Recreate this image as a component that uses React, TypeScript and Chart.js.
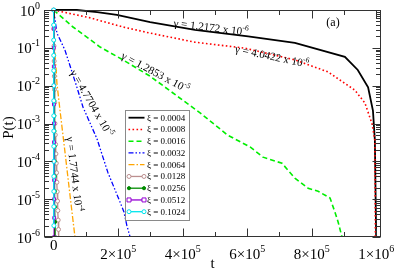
import React, { useEffect, useRef } from "react";
import { Chart, registerables } from "chart.js";

Chart.register(...registerables);

// ---------- data ----------
const seriesLabels = [
  "ξ = 0.0004", "ξ = 0.0008", "ξ = 0.0016", "ξ = 0.0032", "ξ = 0.0064",
  "ξ = 0.0128", "ξ = 0.0256", "ξ = 0.0512", "ξ = 0.1024",
];

const t0004 = [0, 7.2e4, 1.35e5, 1.96e5, 2.99e5, 4.38e5, 6.03e5, 7.48e5, 9.03e5, 9.43e5, 9.75e5, 9.9e5, 9.96e5, 1.0e6, 1.001e6];
const p0004 = [1, 1, 0.88, 0.74, 0.48, 0.30, 0.20, 0.135, 0.058, 0.026, 0.0091, 0.0022, 0.00036, 1e-6, 1e-8];

const t0008 = [0, 1.13e5, 2.15e5, 2.99e5, 4.38e5, 5.93e5, 7.48e5, 8.51e5, 9.34e5, 9.65e5, 9.87e5, 9.96e5, 9.99e5];
const p0008 = [1, 0.62, 0.355, 0.245, 0.141, 0.098, 0.048, 0.023, 0.0076, 0.0035, 0.001, 0.00036, 1e-8];

const t0016 = [0, 6.0e4, 1.44e5, 2.15e5, 2.99e5, 4.54e5, 5.40e5, 6.09e5, 6.49e5, 7.08e5, 7.48e5, 7.89e5, 8.2e5, 8.57e5, 8.72e5, 8.82e5, 8.94e5, 9.0e5];
const p0016 = [1, 0.355, 0.105, 0.048, 0.0178, 0.0019, 0.00049, 0.00024, 0.000129, 0.000089, 0.000036, 0.0000195, 0.0000162, 0.0000107, 0.0000046, 0.0000025, 1.0e-6, 5e-7];

const t0032 = [0, 1.0e4, 3.5e4, 6.0e4, 7.2e4, 9.1e4, 1.34e5, 1.68e5, 2.06e5, 2.18e5, 2.27e5, 2.37e5, 2.4e5];
const p0032 = [1, 0.245, 0.087, 0.019, 0.0091, 0.0027, 0.0004, 0.000051, 0.0000083, 0.0000046, 0.000002, 1e-6, 3.2e-7];

const t0064 = [0, 2e3, 5e3, 8e3, 1.0e4, 2.0e4, 3.5e4, 5.0e4, 6.6e4, 7.0e4];
const p0064 = [1, 0.16, 0.05, 0.025, 0.0117, 0.0021, 0.000178, 0.0000141, 1e-6, 5e-7];

const t0128 = [0, 500, 1000, 1500, 2000, 2500, 3000, 4000, 5000, 6000, 7000, 8000, 9000, 10000, 11000, 12000, 13000, 14000, 15000, 16000, 17000];
const p0128 = [1, 0.316, 0.112, 0.0447, 0.0178, 0.00794, 0.00355, 0.001, 5.0e-4, 2.8e-4, 1.58e-4, 8.9e-5, 5.0e-5, 2.8e-5, 1.58e-5, 8.9e-6, 5.0e-6, 2.8e-6, 1.58e-6, 8.9e-7, 5e-7];

const t0256 = [0, 300, 600, 900, 1200, 1500, 1800, 2100, 2400, 2700, 3000, 3300, 3600, 3900, 4200, 4500];
const p0256 = [1, 0.4, 0.16, 0.063, 0.025, 0.01, 0.004, 0.0016, 6.3e-4, 2.5e-4, 1e-4, 4e-5, 1.6e-5, 6.3e-6, 2.5e-6, 1e-6];

const t0512 = [0, 150, 300, 450, 600, 750, 900, 1050, 1200, 1350, 1500, 1650, 1800];
const p0512 = [1, 0.32, 0.1, 0.032, 0.01, 0.0032, 0.001, 3.2e-4, 1e-4, 3.2e-5, 1e-5, 3.2e-6, 1e-6];

const t1024 = [0, 40, 80, 120, 160, 200, 240, 280, 320, 360, 400, 440, 480, 520, 570];
const p1024 = [1, 0.4, 0.16, 0.063, 0.025, 0.01, 0.004, 0.0016, 6.3e-4, 2.5e-4, 1e-4, 4e-5, 1.6e-5, 6.3e-6, 2e-6];

const seriesT = [t0004, t0008, t0016, t0032, t0064, t0128, t0256, t0512, t1024];
const seriesP = [p0004, p0008, p0016, p0032, p0064, p0128, p0256, p0512, p1024];

const xMajorTicks = [0, 2e5, 4e5, 6e5, 8e5, 1e6];
const xMinorTicks = [1e5, 3e5, 5e5, 7e5, 9e5];
const xTickBase = ["0", "2×10", "4×10", "6×10", "8×10", "1×10"];
const xTickExp = ["", "5", "5", "5", "5", "6"];
const yMajorTicks = [1, 1e-1, 1e-2, 1e-3, 1e-4, 1e-5, 1e-6];
const yTickExp = ["0", "-1", "-2", "-3", "-4", "-5", "-6"];

const gammaBase = ["γ = 1.2172 x 10", "γ = 4.0422 x 10", "γ = 1.2853 x 10", "γ = 4.7704 x 10", "γ = 1.7744 x 10"];
const gammaExp = ["-6", "-6", "-5", "-5", "-4"];

// ---------- styles ----------
const X_MIN = -3e4, X_MAX = 1.015e6, Y_MIN = 1e-6, Y_MAX = 1;
const FONT = "'Liberation Serif', 'Times New Roman', Times, serif";

const styles = [
  { color: "#000000", width: 1.8, dash: [] as number[], marker: null as any },
  { color: "#ff0000", width: 1.6, dash: [1.6, 2.4], marker: null },
  { color: "#00ee00", width: 1.6, dash: [5, 3], marker: null },
  { color: "#0000ff", width: 1.3, dash: [5, 2, 1.5, 2, 1.5, 2], marker: null },
  { color: "#ffa500", width: 1.3, dash: [6, 2, 1.5, 2], marker: null },
  { color: "#bc8f8f", width: 1.3, dash: [], marker: { style: "circle", fill: "#ffffff", r: 2 } },
  { color: "#008b00", width: 1.3, dash: [], marker: { style: "circle", fill: "#008b00", r: 1.6 } },
  { color: "#9400d3", width: 1.3, dash: [], marker: { style: "rect", fill: "#ffffff", r: 2 } },
  { color: "#00e5ee", width: 1.3, dash: [], marker: { style: "circle", fill: "#ffffff", r: 2 } },
];

// annotation anchors (data coords) and rotation in degrees
const gammaAnchors = [
  { t: 4.88e5, p: 0.355, angle: 7 },
  { t: 6.77e5, p: 0.061, angle: 12 },
  { t: 3.16e5, p: 0.0229, angle: 28 },
  { t: 1.19e5, p: 0.0035, angle: 60 },
  { t: 6.6e4, p: 4.6e-5, angle: 83 },
];

function drawSup(ctx: CanvasRenderingContext2D, base: string, sup: string, x: number, y: number,
  bs: number, ss: number, rise: number, align: "left" | "right" | "center") {
  ctx.font = `${bs}px ${FONT}`;
  const wb = ctx.measureText(base).width;
  ctx.font = `${ss}px ${FONT}`;
  const ws = sup ? ctx.measureText(sup).width : 0;
  const total = wb + ws;
  const x0 = align === "right" ? x - total : align === "center" ? x - total / 2 : x;
  ctx.textAlign = "left";
  ctx.textBaseline = "alphabetic";
  ctx.font = `${bs}px ${FONT}`;
  ctx.fillText(base, x0, y);
  if (sup) {
    ctx.font = `${ss}px ${FONT}`;
    ctx.fillText(sup, x0 + wb, y - rise);
  }
}

function drawMarker(ctx: CanvasRenderingContext2D, m: any, color: string, x: number, y: number) {
  ctx.save();
  ctx.setLineDash([]);
  ctx.lineWidth = 1;
  ctx.strokeStyle = color;
  ctx.fillStyle = m.fill;
  ctx.beginPath();
  if (m.style === "rect") ctx.rect(x - m.r, y - m.r, 2 * m.r, 2 * m.r);
  else ctx.arc(x, y, m.r, 0, Math.PI * 2);
  ctx.fill();
  ctx.stroke();
  ctx.restore();
}

const decorPlugin = {
  id: "decor",
  afterDraw(chart: any) {
    const ctx: CanvasRenderingContext2D = chart.ctx;
    const { left, right, top, bottom } = chart.chartArea;
    const xs = chart.scales.x, ys = chart.scales.y;
    ctx.save();
    // frame
    ctx.strokeStyle = "#333";
    ctx.lineWidth = 1;
    ctx.setLineDash([]);
    const L = Math.round(left) + 0.5, R = Math.round(right) - 0.5, T = Math.round(top) + 0.5, B = Math.round(bottom) - 0.5;
    ctx.strokeRect(L, T, R - L, B - T);
    const MAJ = 8, MIN = 4.5;
    ctx.beginPath();
    const xt = (v: number, len: number) => {
      const px = Math.round(xs.getPixelForValue(v)) + 0.5;
      ctx.moveTo(px, B); ctx.lineTo(px, B - len);
      ctx.moveTo(px, T); ctx.lineTo(px, T + len);
    };
    xMajorTicks.forEach((v) => xt(v, MAJ));
    xMinorTicks.forEach((v) => xt(v, MIN));
    const yt = (v: number, len: number) => {
      const py = Math.round(ys.getPixelForValue(v)) + 0.5;
      ctx.moveTo(L, py); ctx.lineTo(L + len, py);
      ctx.moveTo(R, py); ctx.lineTo(R - len, py);
    };
    yMajorTicks.forEach((v) => yt(v, MAJ));
    for (let k = -6; k < 0; k++) for (let m = 2; m <= 9; m++) yt(m * Math.pow(10, k), MIN);
    ctx.stroke();

    // tick labels
    ctx.fillStyle = "#000";
    yMajorTicks.forEach((v, i) => {
      const py = ys.getPixelForValue(v);
      drawSup(ctx, "10", yTickExp[i], left - 4, py + 5.5, 15, 10, 7, "right");
    });
    xMajorTicks.forEach((v, i) => {
      const px = xs.getPixelForValue(v);
      if (xTickExp[i]) drawSup(ctx, xTickBase[i], xTickExp[i], px, bottom + 22, 15, 10, 7, "center");
      else drawSup(ctx, xTickBase[i], "", px, bottom + 13, 15, 10, 7, "center");
    });

    // axis titles
    ctx.font = `15px ${FONT}`;
    ctx.textAlign = "center";
    ctx.textBaseline = "middle";
    ctx.fillText("t", (left + right) / 2, 264);
    ctx.save();
    ctx.translate(9, (top + bottom) / 2 + 4);
    ctx.rotate(-Math.PI / 2);
    ctx.fillText("P(t)", 0, 0);
    ctx.restore();

    // (a)
    ctx.font = `12px ${FONT}`;
    ctx.fillText("(a)", 333, 23);

    // gamma annotations
    gammaAnchors.forEach((a, i) => {
      const px = xs.getPixelForValue(a.t), py = ys.getPixelForValue(a.p);
      ctx.save();
      ctx.translate(px, py);
      ctx.rotate((a.angle * Math.PI) / 180);
      drawSup(ctx, gammaBase[i], gammaExp[i], 0, 4, 11, 7.5, 5, "center");
      ctx.restore();
    });

    // legend
    const bx = 125.5, by = 110.5, bw = 64, bh = 110;
    ctx.fillStyle = "#fff";
    ctx.fillRect(bx, by, bw, bh);
    ctx.strokeStyle = "#8a8a8a";
    ctx.lineWidth = 1;
    ctx.strokeRect(bx, by, bw, bh);
    seriesLabels.forEach((lab, i) => {
      const s = styles[i];
      const ry = 117.7 + i * 11.75;
      ctx.save();
      ctx.strokeStyle = s.color;
      ctx.lineWidth = s.width;
      ctx.setLineDash(s.dash);
      ctx.beginPath();
      ctx.moveTo(128.5, ry);
      ctx.lineTo(144.5, ry);
      ctx.stroke();
      ctx.restore();
      if (s.marker) {
        drawMarker(ctx, s.marker, s.color, 129, ry);
        drawMarker(ctx, s.marker, s.color, 144, ry);
      }
      ctx.fillStyle = "#000";
      ctx.font = `9px ${FONT}`;
      ctx.textAlign = "left";
      ctx.textBaseline = "middle";
      ctx.fillText(lab, 147, ry + 0.5);
    });
    ctx.restore();
  },
};

export default function App() {
  const ref = useRef<HTMLCanvasElement>(null);
  useEffect(() => {
    const datasets = seriesLabels.map((lab, i) => {
      const s = styles[i];
      return {
        label: lab,
        data: seriesT[i].map((t, j) => ({ x: t, y: seriesP[i][j] })),
        borderColor: s.color,
        backgroundColor: s.color,
        borderWidth: s.width,
        borderDash: s.dash,
        fill: false,
        tension: 0,
        pointRadius: s.marker ? s.marker.r : 0,
        pointStyle: s.marker ? s.marker.style : "circle",
        pointBackgroundColor: s.marker ? s.marker.fill : s.color,
        pointBorderColor: s.color,
        pointBorderWidth: 1,
        order: 10 - i,
        clip: { left: 2, top: 3, right: 2, bottom: 0 },
      };
    });
    const chart = new Chart(ref.current as HTMLCanvasElement, {
      type: "line",
      data: { datasets },
      options: {
        animation: false,
        responsive: false,
        devicePixelRatio: 1,
        layout: { padding: { left: 44, right: 14, top: 10, bottom: 34 } },
        plugins: { legend: { display: false }, tooltip: { enabled: false } },
        scales: {
          x: { type: "linear", min: X_MIN, max: X_MAX, display: false },
          y: { type: "logarithmic", min: Y_MIN, max: Y_MAX, display: false },
        },
      },
      plugins: [decorPlugin],
    } as any);
    return () => chart.destroy();
  }, []);
  return (
    <div style={{ position: "fixed", left: 0, top: 0, width: 395, height: 271, background: "#fff" }}>
      <canvas ref={ref} width={395} height={271} style={{ display: "block", width: 395, height: 271 }} />
    </div>
  );
}
